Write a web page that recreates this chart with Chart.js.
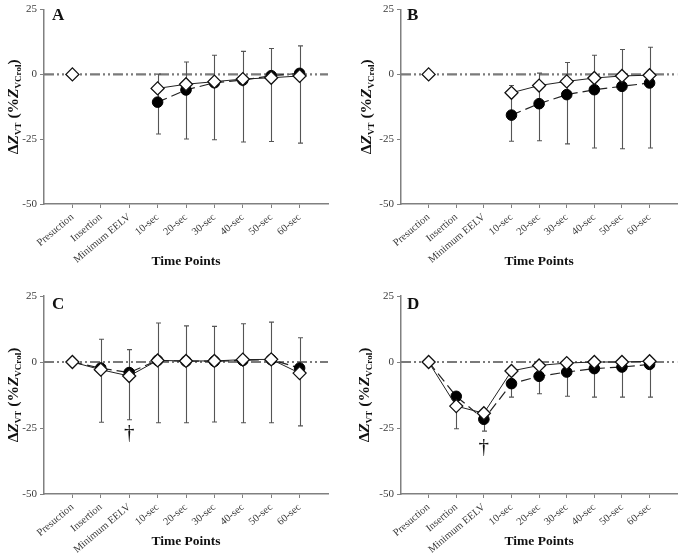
<!DOCTYPE html>
<html>
<head>
<meta charset="utf-8">
<script src="https://cdn.jsdelivr.net/npm/chart.js@4.4.1/dist/chart.umd.min.js"></script>
<style>
  html, body { margin: 0; padding: 0; background: #fff; }
  body { width: 685px; height: 559px; position: relative; overflow: hidden; }
  canvas { position: absolute; }
</style>
</head>
<body>
<script>
// Time points (x categories)
const categories = ['Presuction', 'Insertion', 'Minimum EELV', '10-sec', '20-sec', '30-sec', '40-sec', '50-sec', '60-sec'];
const yTicks = [25, 0, -25, -50];

// Panel A
const openA   = [0, null, null, -5.4, -3.8, -2.8, -1.8, -1.3, -0.6];
const filledA = [null, null, null, -10.7, -6.0, -3.2, -2.2, -0.5, 0.4];
const hiA     = [null, null, null, 0.1, 4.8, 7.4, 8.9, 10.0, 11.0];
const loA     = [null, null, null, -23.0, -24.9, -25.2, -26.1, -25.9, -26.5];

// Panel B
const openB   = [0, null, null, -7.1, -4.3, -2.7, -1.4, -0.6, -0.3];
const filledB = [null, null, null, -15.7, -11.3, -7.8, -5.9, -4.6, -3.3];
const hiB     = [null, null, null, -4.3, 0.5, 4.6, 7.4, 9.6, 10.5];
const loB     = [null, null, null, -25.8, -25.6, -26.8, -28.4, -28.7, -28.4];

// Panel C
const openC   = [0, -2.9, -5.3, 0.6, 0.4, 0.4, 0.9, 1.0, -4.2];
const filledC = [0, -2.3, -4.0, 0.6, 0.3, 0.3, 0.6, 0.9, -2.3];
const hiC     = [null, 8.6, 4.7, 14.8, 13.7, 13.5, 14.5, 15.1, 9.2];
const loC     = [null, -22.8, -21.9, -23.0, -23.0, -22.7, -23.0, -23.0, -24.2];
const daggerC = [{ x: 2, y: -27.2 }];

// Panel D
const openD   = [0, -16.7, -19.4, -3.4, -1.3, -0.4, 0, 0, 0.3];
const filledD = [0, -13.0, -21.7, -8.2, -5.4, -3.8, -2.5, -1.9, -0.9];
const hiD     = [null, -16.7, -21.7, -8.2, -5.4, -3.8, -2.5, -1.9, -0.9];
const loD     = [null, -25.3, -26.2, -13.3, -12.0, -13.0, -13.3, -13.3, -13.3];
const daggerD = [{ x: 2, y: -32.3 }];

const SERIF = '"Liberation Serif", "DejaVu Serif", serif';

// Panel geometry (canvas box + plot box inside it)
const panels = [
    { letter: 'A', left: 0,   top: 0,   w: 342, h: 280, L: 44, T: 7,  R: 328, B: 204, titleX: 12, letterPos: [52, 16], titleY: 262,
      open: openA, filled: filledA, hi: hiA, lo: loA, daggers: [] },
    { letter: 'B', left: 342, top: 0,   w: 343, h: 280, L: 59, T: 7,  R: 343, B: 204, titleX: 23, letterPos: [65, 16], titleY: 262,
      open: openB, filled: filledB, hi: hiB, lo: loB, daggers: [] },
    { letter: 'C', left: 0,   top: 280, w: 342, h: 279, L: 44, T: 16, R: 328, B: 214, titleX: 12, letterPos: [52, 25], titleY: 262,
      open: openC, filled: filledC, hi: hiC, lo: loC, daggers: daggerC },
    { letter: 'D', left: 342, top: 280, w: 343, h: 279, L: 59, T: 16, R: 343, B: 214, titleX: 21, letterPos: [65, 25], titleY: 262,
      open: openD, filled: filledD, hi: hiD, lo: loD, daggers: daggerD },
];

const toPoints = (arr) => arr.map((v, i) => ({ x: i, y: v }));

/**
 * Zero reference line + error bars, drawn under the markers
 */
const underlayPlugin = {
    id: 'underlay',
    beforeDatasetsDraw(chart, args, opts) {
        const { ctx, chartArea, scales: { x, y } } = chart;
        ctx.save();
        // dash-dot-dot zero line
        const y0 = y.getPixelForValue(0);
        ctx.strokeStyle = '#7a7a7a';
        ctx.lineWidth = 2.2;
        ctx.setLineDash([10, 3, 2, 3, 2, 3]);
        ctx.beginPath();
        ctx.moveTo(chartArea.left, y0);
        ctx.lineTo(chartArea.right, y0);
        ctx.stroke();
        ctx.setLineDash([]);

        // error bars
        ctx.strokeStyle = '#555';
        ctx.lineWidth = 1.1;
        opts.hi.forEach((h, i) => {
            const l = opts.lo[i];
            if (h === null || l === null) return;
            const px = Math.round(x.getPixelForValue(i)) + 0.5;
            const pTop = y.getPixelForValue(h);
            const pBot = y.getPixelForValue(l);
            ctx.beginPath();
            ctx.moveTo(px, pTop);
            ctx.lineTo(px, pBot);
            ctx.moveTo(px - 2.5, pTop);
            ctx.lineTo(px + 2.5, pTop);
            ctx.moveTo(px - 2.5, pBot);
            ctx.lineTo(px + 2.5, pBot);
            ctx.stroke();
        });
        ctx.restore();
    }
};

/**
 * Panel letter, daggers and the y axis title with subscripts
 */
const labelsPlugin = {
    id: 'labels',
    afterDraw(chart, args, opts) {
        const { ctx, chartArea, scales: { x, y } } = chart;
        ctx.save();
        ctx.fillStyle = '#111';

        // panel letter
        ctx.font = 'bold 17px ' + SERIF;
        ctx.textAlign = 'left';
        ctx.textBaseline = 'middle';
        ctx.fillText(opts.letter, opts.letterPos[0], opts.letterPos[1]);

        // daggers
        ctx.font = '21px ' + SERIF;
        ctx.textAlign = 'center';
        opts.daggers.forEach(d => {
            ctx.fillText('\u2020', x.getPixelForValue(d.x), y.getPixelForValue(d.y));
        });

        // y title: ΔZ_VT (%Z_VCrol)
        const big = 'bold 15.5px ' + SERIF;
        const bigIt = 'italic bold 15.5px ' + SERIF;
        const small = 'bold 9px ' + SERIF;
        const parts = [
            { t: '\u0394', f: big, dy: 0 },
            { t: 'Z', f: bigIt, dy: 0 },
            { t: 'VT', f: small, dy: 3 },
            { t: ' (%', f: big, dy: 0 },
            { t: 'Z', f: bigIt, dy: 0 },
            { t: 'VCrol', f: small, dy: 3 },
            { t: ')', f: big, dy: 0 },
        ];
        let total = 0;
        parts.forEach(p => { ctx.font = p.f; p.w = ctx.measureText(p.t).width; total += p.w; });
        ctx.translate(opts.titleX, (chartArea.top + chartArea.bottom) / 2);
        ctx.rotate(-Math.PI / 2);
        ctx.textAlign = 'left';
        ctx.textBaseline = 'alphabetic';
        let cx = -total / 2;
        parts.forEach(p => {
            ctx.font = p.f;
            ctx.fillText(p.t, cx, 5.5 + p.dy);
            cx += p.w;
        });
        ctx.restore();
    }
};

panels.forEach(p => {
    const canvas = document.createElement('canvas');
    canvas.width = p.w;
    canvas.height = p.h;
    canvas.style.left = p.left + 'px';
    canvas.style.top = p.top + 'px';
    canvas.style.width = p.w + 'px';
    canvas.style.height = p.h + 'px';
    document.body.appendChild(canvas);

    const titleFontSize = 13.5;
    const titlePadBottom = p.h - p.titleY - titleFontSize * 1.2 / 2;

    new Chart(canvas.getContext('2d'), {
        type: 'line',
        data: {
            datasets: [
                {
                    // open diamonds, solid line (drawn on top)
                    data: toPoints(p.open),
                    borderColor: '#222',
                    borderWidth: 1,
                    pointStyle: 'rectRot',
                    pointRadius: 6.5,
                    pointBackgroundColor: '#fff',
                    pointBorderColor: '#111',
                    pointBorderWidth: 1.3,
                    spanGaps: false,
                    tension: 0,
                },
                {
                    // filled circles, dashed line
                    data: toPoints(p.filled),
                    borderColor: '#222',
                    borderWidth: 1.2,
                    borderDash: [10, 5],
                    pointStyle: 'circle',
                    pointRadius: (c) => c.dataIndex === 0 ? 0 : 5.3,
                    pointBackgroundColor: '#000',
                    pointBorderColor: '#000',
                    pointBorderWidth: 1,
                    spanGaps: false,
                    tension: 0,
                },
            ]
        },
        options: {
            responsive: false,
            animation: false,
            events: [],
            layout: { padding: { left: 0, top: p.T, right: p.w - p.R, bottom: 0 } },
            plugins: {
                legend: { display: false },
                tooltip: { enabled: false },
                underlay: { hi: p.hi, lo: p.lo },
                labels: { letter: p.letter, letterPos: p.letterPos, daggers: p.daggers, titleX: p.titleX },
            },
            scales: {
                x: {
                    type: 'linear',
                    min: -1,
                    max: 9,
                    afterBuildTicks: (s) => { s.ticks = categories.map((c, i) => ({ value: i })); },
                    afterFit: (s) => { s.height = p.h - p.B; },
                    grid: { drawOnChartArea: false, drawTicks: true, tickLength: 4, color: '#808080' },
                    border: { display: true, color: '#808080', width: 1.5 },
                    ticks: {
                        autoSkip: false,
                        minRotation: 40,
                        maxRotation: 40,
                        padding: 3,
                        color: '#3a3a3a',
                        font: { family: SERIF, size: 10.5 },
                        callback: (v) => categories[v] ?? '',
                    },
                    title: {
                        display: true,
                        text: 'Time Points',
                        color: '#111',
                        font: { family: SERIF, size: titleFontSize, weight: 'bold' },
                        padding: { top: 0, bottom: titlePadBottom },
                    },
                },
                y: {
                    min: -50,
                    max: 25,
                    afterBuildTicks: (s) => { s.ticks = yTicks.map(v => ({ value: v })); },
                    afterFit: (s) => { s.width = p.L; },
                    grid: { drawOnChartArea: false, drawTicks: true, tickLength: 4, color: '#808080' },
                    border: { display: true, color: '#808080', width: 1.5 },
                    ticks: {
                        padding: 3,
                        color: '#3a3a3a',
                        font: { family: SERIF, size: 11 },
                    },
                },
            },
        },
        plugins: [underlayPlugin, labelsPlugin],
    });
});
</script>
</body>
</html>
